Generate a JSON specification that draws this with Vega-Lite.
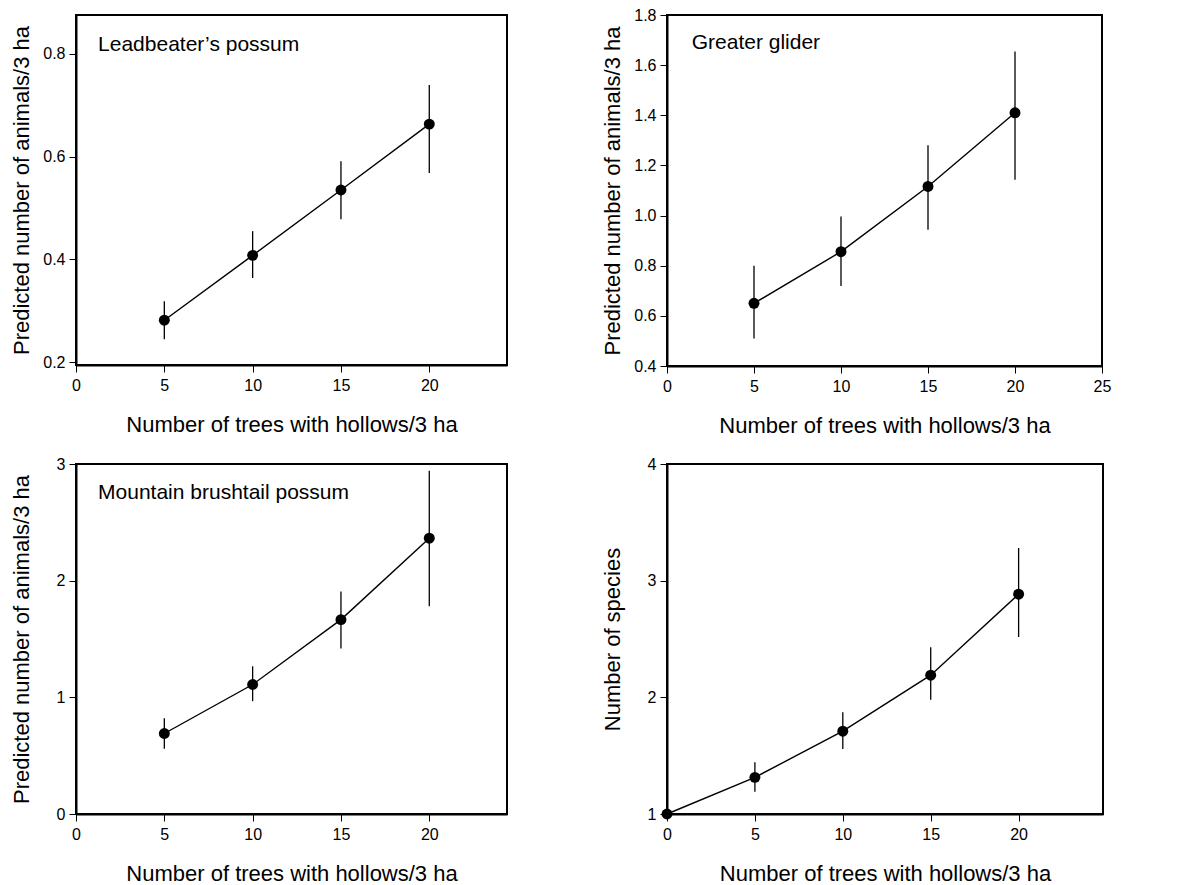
{
  "$schema": "https://vega.github.io/schema/vega-lite/v6.json",
  "padding": {"left": 9, "top": 6, "right": 5, "bottom": 5},
  "background": "white",
  "columns": 2,
  "spacing": {"column": 160, "row": 98},
  "bounds": "flush",
  "datasets": {
    "d": [
      {"panel": "LP", "trees": 5, "value": 0.282, "lower": 0.245, "upper": 0.319},
      {"panel": "LP", "trees": 10, "value": 0.408, "lower": 0.364, "upper": 0.455},
      {"panel": "LP", "trees": 15, "value": 0.535, "lower": 0.478, "upper": 0.591},
      {"panel": "LP", "trees": 20, "value": 0.663, "lower": 0.568, "upper": 0.739},
      {"panel": "GG", "trees": 5, "value": 0.65, "lower": 0.51, "upper": 0.8},
      {"panel": "GG", "trees": 10, "value": 0.856, "lower": 0.719, "upper": 0.996},
      {"panel": "GG", "trees": 15, "value": 1.116, "lower": 0.943, "upper": 1.28},
      {"panel": "GG", "trees": 20, "value": 1.41, "lower": 1.143, "upper": 1.654},
      {"panel": "MB", "trees": 5, "value": 0.69, "lower": 0.56, "upper": 0.82},
      {"panel": "MB", "trees": 10, "value": 1.11, "lower": 0.967, "upper": 1.266},
      {"panel": "MB", "trees": 15, "value": 1.666, "lower": 1.418, "upper": 1.908},
      {"panel": "MB", "trees": 20, "value": 2.364, "lower": 1.78, "upper": 2.943},
      {"panel": "NS", "trees": 0, "value": 1.0, "lower": null, "upper": null},
      {"panel": "NS", "trees": 5, "value": 1.314, "lower": 1.19, "upper": 1.443},
      {"panel": "NS", "trees": 10, "value": 1.71, "lower": 1.558, "upper": 1.873},
      {"panel": "NS", "trees": 15, "value": 2.19, "lower": 1.98, "upper": 2.43},
      {"panel": "NS", "trees": 20, "value": 2.884, "lower": 2.517, "upper": 3.28}
    ]
  },
  "config": {
    "font": "Liberation Sans",
    "view": {"stroke": "black", "strokeWidth": 2},
    "axis": {
      "domainColor": "black", "domainWidth": 2,
      "tickColor": "black", "tickSize": 7, "tickWidth": 1,
      "labelColor": "black", "labelFontSize": 16, "labelFont": "Liberation Sans",
      "titleColor": "black", "titleFontSize": 22, "titleFontWeight": "normal", "titleFont": "Liberation Sans",
      "grid": false
    },
    "axisX": {"labelPadding": 5, "minExtent": 30, "maxExtent": 30, "titlePadding": 19, "labelFlush": false},
    "axisY": {"labelPadding": 4, "minExtent": 34, "maxExtent": 34, "titlePadding": 9}
  },
  "concat": [
    {
      "width": 431, "height": 350,
      "layer": [
        {
          "data": {"name": "d"},
          "transform": [{"filter": "datum.panel === 'LP'"}],
          "mark": {"type": "rule", "color": "black", "strokeWidth": 1.3},
          "encoding": {
            "x": {"field": "trees", "type": "quantitative", "scale": {"domain": [0, 24.4], "nice": false}, "axis": {"values": [0, 5, 10, 15, 20], "title": "Number of trees with hollows/3 ha"}},
            "y": {"field": "lower", "type": "quantitative", "scale": {"domain": [0.195, 0.875], "nice": false, "zero": false}, "axis": {"values": [0.2, 0.4, 0.6, 0.8], "format": ".1f", "title": "Predicted number of animals/3 ha"}},
            "y2": {"field": "upper"}
          }
        },
        {
          "data": {"name": "d"},
          "transform": [{"filter": "datum.panel === 'LP'"}],
          "mark": {"type": "line", "color": "black", "strokeWidth": 1.4},
          "encoding": {
            "x": {"field": "trees", "type": "quantitative", "title": "Number of trees with hollows/3 ha"},
            "y": {"field": "value", "type": "quantitative", "title": "Predicted number of animals/3 ha"}
          }
        },
        {
          "data": {"name": "d"},
          "transform": [{"filter": "datum.panel === 'LP'"}],
          "mark": {"type": "circle", "color": "black", "opacity": 1, "size": 120},
          "encoding": {
            "x": {"field": "trees", "type": "quantitative", "title": "Number of trees with hollows/3 ha"},
            "y": {"field": "value", "type": "quantitative", "title": "Predicted number of animals/3 ha"}
          }
        },
        {
          "data": {"values": [{"label": "Leadbeater’s possum"}]},
          "mark": {"type": "text", "align": "left", "baseline": "middle", "fontSize": 21, "color": "black"},
          "encoding": {
            "x": {"datum": 1.25, "type": "quantitative"},
            "y": {"datum": 0.8175, "type": "quantitative"},
            "text": {"field": "label"}
          }
        }
      ]
    },
    {
      "width": 435, "height": 351,
      "layer": [
        {
          "data": {"name": "d"},
          "transform": [{"filter": "datum.panel === 'GG'"}],
          "mark": {"type": "rule", "color": "black", "strokeWidth": 1.3},
          "encoding": {
            "x": {"field": "trees", "type": "quantitative", "scale": {"domain": [0, 25], "nice": false}, "axis": {"values": [0, 5, 10, 15, 20, 25], "title": "Number of trees with hollows/3 ha"}},
            "y": {"field": "lower", "type": "quantitative", "scale": {"domain": [0.4, 1.8], "nice": false, "zero": false}, "axis": {"values": [0.4, 0.6, 0.8, 1.0, 1.2, 1.4, 1.6, 1.8], "format": ".1f", "title": "Predicted number of animals/3 ha"}},
            "y2": {"field": "upper"}
          }
        },
        {
          "data": {"name": "d"},
          "transform": [{"filter": "datum.panel === 'GG'"}],
          "mark": {"type": "line", "color": "black", "strokeWidth": 1.4},
          "encoding": {
            "x": {"field": "trees", "type": "quantitative", "title": "Number of trees with hollows/3 ha"},
            "y": {"field": "value", "type": "quantitative", "title": "Predicted number of animals/3 ha"}
          }
        },
        {
          "data": {"name": "d"},
          "transform": [{"filter": "datum.panel === 'GG'"}],
          "mark": {"type": "circle", "color": "black", "opacity": 1, "size": 120},
          "encoding": {
            "x": {"field": "trees", "type": "quantitative", "title": "Number of trees with hollows/3 ha"},
            "y": {"field": "value", "type": "quantitative", "title": "Predicted number of animals/3 ha"}
          }
        },
        {
          "data": {"values": [{"label": "Greater glider"}]},
          "mark": {"type": "text", "align": "left", "baseline": "middle", "fontSize": 21, "color": "black"},
          "encoding": {
            "x": {"datum": 1.42, "type": "quantitative"},
            "y": {"datum": 1.69, "type": "quantitative"},
            "text": {"field": "label"}
          }
        }
      ]
    },
    {
      "width": 431, "height": 350,
      "layer": [
        {
          "data": {"name": "d"},
          "transform": [{"filter": "datum.panel === 'MB'"}],
          "mark": {"type": "rule", "color": "black", "strokeWidth": 1.3},
          "encoding": {
            "x": {"field": "trees", "type": "quantitative", "scale": {"domain": [0, 24.4], "nice": false}, "axis": {"values": [0, 5, 10, 15, 20], "title": "Number of trees with hollows/3 ha"}},
            "y": {"field": "lower", "type": "quantitative", "scale": {"domain": [0, 3], "nice": false}, "axis": {"values": [0, 1, 2, 3], "format": "d", "title": "Predicted number of animals/3 ha"}},
            "y2": {"field": "upper"}
          }
        },
        {
          "data": {"name": "d"},
          "transform": [{"filter": "datum.panel === 'MB'"}],
          "mark": {"type": "line", "color": "black", "strokeWidth": 1.4},
          "encoding": {
            "x": {"field": "trees", "type": "quantitative", "title": "Number of trees with hollows/3 ha"},
            "y": {"field": "value", "type": "quantitative", "title": "Predicted number of animals/3 ha"}
          }
        },
        {
          "data": {"name": "d"},
          "transform": [{"filter": "datum.panel === 'MB'"}],
          "mark": {"type": "circle", "color": "black", "opacity": 1, "size": 120},
          "encoding": {
            "x": {"field": "trees", "type": "quantitative", "title": "Number of trees with hollows/3 ha"},
            "y": {"field": "value", "type": "quantitative", "title": "Predicted number of animals/3 ha"}
          }
        },
        {
          "data": {"values": [{"label": "Mountain brushtail possum"}]},
          "mark": {"type": "text", "align": "left", "baseline": "middle", "fontSize": 21, "color": "black"},
          "encoding": {
            "x": {"datum": 1.25, "type": "quantitative"},
            "y": {"datum": 2.75, "type": "quantitative"},
            "text": {"field": "label"}
          }
        }
      ]
    },
    {
      "width": 436, "height": 350,
      "layer": [
        {
          "data": {"name": "d"},
          "transform": [{"filter": "datum.panel === 'NS'"}],
          "mark": {"type": "rule", "color": "black", "strokeWidth": 1.3},
          "encoding": {
            "x": {"field": "trees", "type": "quantitative", "scale": {"domain": [0, 24.8], "nice": false}, "axis": {"values": [0, 5, 10, 15, 20], "title": "Number of trees with hollows/3 ha"}},
            "y": {"field": "lower", "type": "quantitative", "scale": {"domain": [1, 4], "nice": false, "zero": false}, "axis": {"values": [1, 2, 3, 4], "format": "d", "title": "Number of species"}},
            "y2": {"field": "upper"}
          }
        },
        {
          "data": {"name": "d"},
          "transform": [{"filter": "datum.panel === 'NS'"}],
          "mark": {"type": "line", "color": "black", "strokeWidth": 1.4},
          "encoding": {
            "x": {"field": "trees", "type": "quantitative", "title": "Number of trees with hollows/3 ha"},
            "y": {"field": "value", "type": "quantitative", "title": "Number of species"}
          }
        },
        {
          "data": {"name": "d"},
          "transform": [{"filter": "datum.panel === 'NS'"}],
          "mark": {"type": "circle", "color": "black", "opacity": 1, "size": 120},
          "encoding": {
            "x": {"field": "trees", "type": "quantitative", "title": "Number of trees with hollows/3 ha"},
            "y": {"field": "value", "type": "quantitative", "title": "Number of species"}
          }
        }
      ]
    }
  ]
}
